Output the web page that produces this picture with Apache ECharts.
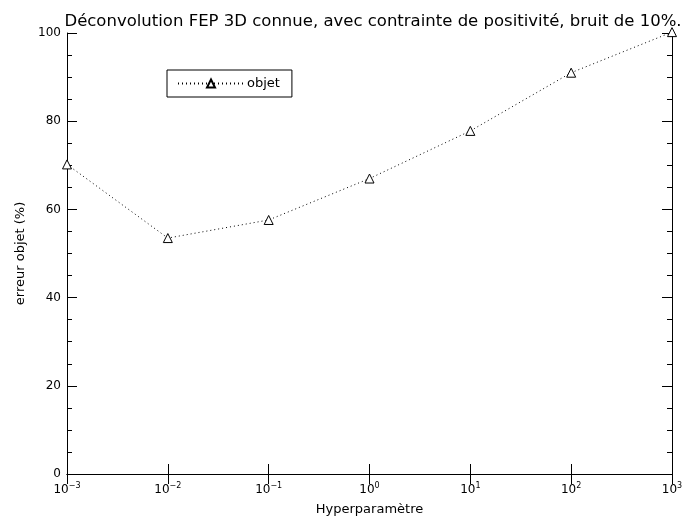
<!DOCTYPE html>
<html>
<head>
<meta charset="utf-8">
<script src="https://cdn.jsdelivr.net/npm/echarts@6/dist/echarts.min.js"></script>
<style>
  html, body { margin: 0; padding: 0; background: #fff; }
  #chart { width: 688px; height: 521px; }
</style>
</head>
<body>
<div id="chart"></div>
<script>
// hyperparametre (log scale) et erreur objet en %
const hyperParams = [0.001, 0.01, 0.1, 1, 10, 100, 1000];
const erreurObjet = [70.2, 53.5, 57.6, 67.0, 77.8, 91.0, 100.2];
const yTicks = [0, 20, 40, 60, 80, 100];

const font = 'DejaVu Sans';
const chart = echarts.init(document.getElementById('chart'));

// 10^n avec exposant en rich text
const expLabel = v => {
  const e = Math.round(Math.log10(v));
  return '{b|10}{s|' + (e < 0 ? '\u2212' + (-e) : e) + '}';
};

const tickInside = { show: true, inside: true, length: 10, lineStyle: { color: '#000', width: 1 } };
const minorInside = { show: true, length: 5, lineStyle: { color: '#000', width: 1 }, splitNumber: 4 };

const option = {
  animation: false,
  backgroundColor: '#fff',
  title: {
    text: 'Déconvolution FEP 3D connue, avec contrainte de positivité, bruit de 10%.',
    left: 368, top: 8, textAlign: 'center',
    textStyle: { fontFamily: font, fontSize: 16.5, fontWeight: 'normal', color: '#000' }
  },
  legend: {
    left: 167, top: 70,
    data: ['objet'],
    itemWidth: 66, itemHeight: 10, itemGap: 4,
    borderColor: '#000', borderWidth: 1, borderRadius: 0,
    padding: [7, 12, 7, 10],
    textStyle: { fontFamily: font, fontSize: 13, color: '#000', padding: [0, 0, 0, -2] }
  },
  grid: { left: 67, right: 16, top: 33, bottom: 41 },
  xAxis: [{
    type: 'log', logBase: 10, min: 0.001, max: 1000,
    name: 'Hyperparamètre', nameLocation: 'middle', nameGap: 29,
    nameTextStyle: { fontFamily: font, fontSize: 13, color: '#000' },
    axisLine: { lineStyle: { color: '#000', width: 1 } },
    axisTick: tickInside,
    splitLine: { show: false },
    axisLabel: {
      color: '#000', margin: 8, formatter: expLabel,
      rich: {
        b: { fontFamily: font, fontSize: 12, color: '#000' },
        s: { fontFamily: font, fontSize: 8, color: '#000', verticalAlign: 'top', padding: [0, 0, 8, 0] }
      }
    }
  }, {
    type: 'log', logBase: 10, min: 0.001, max: 1000, position: 'top',
    axisLine: { lineStyle: { color: '#000', width: 1 } },
    axisTick: tickInside, axisLabel: { show: false }, splitLine: { show: false }
  }],
  yAxis: [{
    type: 'value', min: 0, max: 100, interval: 20,
    name: 'erreur objet (%)', nameLocation: 'middle', nameGap: 37,
    nameTextStyle: { fontFamily: font, fontSize: 13, color: '#000' },
    axisLine: { show: true, lineStyle: { color: '#000', width: 1 } },
    axisTick: tickInside, minorTick: minorInside,
    splitLine: { show: false },
    axisLabel: { fontFamily: font, fontSize: 12, color: '#000', margin: 6,
      formatter: v => yTicks.includes(v) ? String(v) : '' }
  }, {
    type: 'value', min: 0, max: 100, interval: 20, position: 'right',
    axisLine: { show: true, lineStyle: { color: '#000', width: 1 } },
    axisTick: tickInside, minorTick: minorInside,
    axisLabel: { show: false }, splitLine: { show: false }
  }],
  series: [{
    name: 'objet',
    type: 'line',
    data: hyperParams.map((x, i) => [x, erreurObjet[i]]),
    symbol: 'triangle', symbolSize: 9,
    showAllSymbol: true,
    clip: false,
    itemStyle: { color: '#fff', borderColor: '#000', borderWidth: 1 },
    lineStyle: { color: '#000', width: 1, type: [1, 3] }
  }]
};

chart.setOption(option);
</script>
</body>
</html>
